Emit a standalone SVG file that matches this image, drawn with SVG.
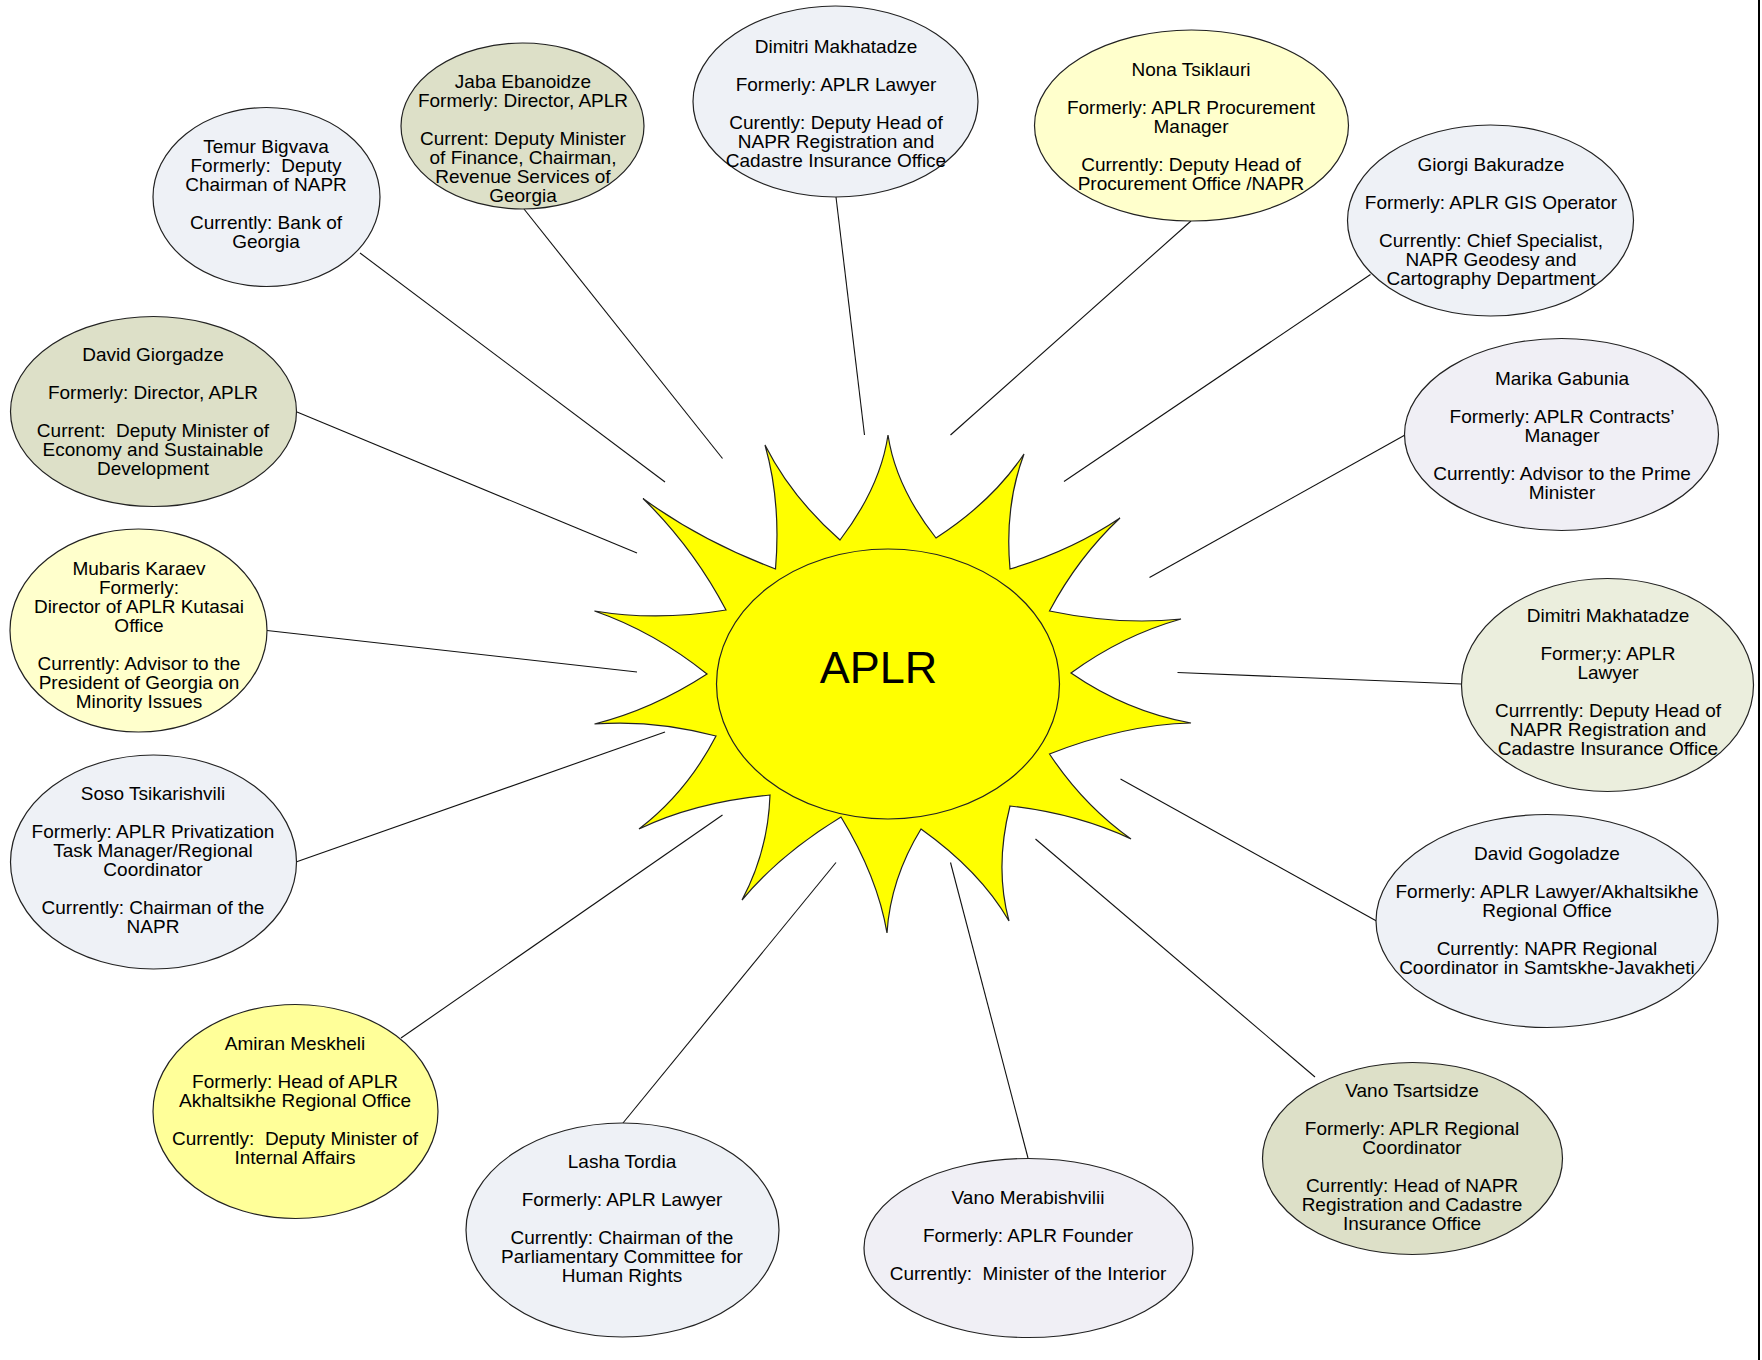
<svg xmlns="http://www.w3.org/2000/svg" width="1762" height="1360" viewBox="0 0 1762 1360">
<style>
.n{stroke:#222;stroke-width:1.2}
.t{font-family:"Liberation Sans",Arial,sans-serif;font-size:19px;fill:#000;text-anchor:middle;white-space:pre}
.c line{stroke:#111;stroke-width:1.1}
.blue{fill:#EEF1F6}.olive{fill:#DDE0C8}.lgreen{fill:#EBEEDD}.lav{fill:#F0EFF5}.ly{fill:#FFFFCC}.yel{fill:#FFFF99}
</style>
<rect width="1762" height="1360" fill="#fff"/>
<line x1="1759" y1="0" x2="1759" y2="1360" stroke="#000" stroke-width="2"/>
<g id="connectors" class="c">
<line x1="360" y1="253" x2="665" y2="482"/>
<line x1="524" y1="209" x2="722.5" y2="458.5"/>
<line x1="297" y1="412" x2="637" y2="553"/>
<line x1="267" y1="630.5" x2="637" y2="672"/>
<line x1="296" y1="862" x2="665" y2="732"/>
<line x1="401" y1="1038" x2="722.5" y2="815"/>
<line x1="623" y1="1123" x2="836" y2="862.5"/>
<line x1="1028" y1="1158" x2="950.5" y2="862.5"/>
<line x1="1315" y1="1077" x2="1035.5" y2="839"/>
<line x1="1376.5" y1="921" x2="1120.5" y2="779"/>
<line x1="1461.5" y1="684" x2="1177.5" y2="672.5"/>
<line x1="1405" y1="435" x2="1149.5" y2="577.5"/>
<line x1="1370.5" y1="274.5" x2="1064" y2="481.5"/>
<line x1="1191" y1="221" x2="950.5" y2="435"/>
<line x1="836" y1="197" x2="864.5" y2="435"/>
</g>
<g id="sun">
<path fill="#FFFF00" stroke="#222" stroke-width="1.2" d="M 840 540 Q 880.3 487.2 888 435 Q 895.7 486.8 936 538 Q 992.6 501.3 1024 454 Q 1004.4 506.2 1010 569 Q 1071.7 550.6 1120 518 Q 1078 557.4 1049.5 611 Q 1119 625.5 1181 619 Q 1122.3 635.5 1071 673 Q 1127.3 711.8 1191 723 Q 1124 724.7 1049.5 754 Q 1083.5 805.3 1131 839 Q 1077.2 813.7 1010 806 Q 994.4 867.4 1009 921 Q 980.1 871.1 921 829 Q 890.4 879 887 933 Q 877.6 877 841 817 Q 779.4 854.8 742 900 Q 768.1 851.2 770 795 Q 695.3 802 639 829 Q 686.7 792.5 716 736 Q 653.7 719.5 594.5 724 Q 652.3 709.5 707 674 Q 654 631.6 594.5 611 Q 657 621.4 726 610 Q 692.9 547.3 643 498.5 Q 700.8 540.7 775.5 569 Q 781.2 502.1 765 445 Q 791.5 497.4 840 540 Z"/>
<ellipse cx="888" cy="684" rx="171.5" ry="135" fill="#FFFF00" stroke="#222" stroke-width="1.2"/>
<text x="878.5" y="683" font-family="Liberation Sans, Arial, sans-serif" font-size="45" text-anchor="middle" fill="#000">APLR</text>
</g>
<g id="temur">
<ellipse class="n blue" cx="266.5" cy="197" rx="113.5" ry="89.5"/>
<text class="t" y="153"><tspan x="266">Temur Bigvava</tspan><tspan x="266" dy="19">Formerly:  Deputy</tspan><tspan x="266" dy="19">Chairman of NAPR</tspan><tspan x="266" dy="38">Currently: Bank of</tspan><tspan x="266" dy="19">Georgia</tspan></text>
</g>
<g id="jaba">
<ellipse class="n olive" cx="522.5" cy="126" rx="121.5" ry="83"/>
<text class="t" y="87.5"><tspan x="523">Jaba Ebanoidze</tspan><tspan x="523" dy="19">Formerly: Director, APLR</tspan><tspan x="523" dy="38">Current: Deputy Minister</tspan><tspan x="523" dy="19">of Finance, Chairman,</tspan><tspan x="523" dy="19">Revenue Services of</tspan><tspan x="523" dy="19">Georgia</tspan></text>
</g>
<g id="giorgadze">
<ellipse class="n olive" cx="153.5" cy="411.5" rx="143" ry="95"/>
<text class="t" y="360.5"><tspan x="153">David Giorgadze</tspan><tspan x="153" dy="38">Formerly: Director, APLR</tspan><tspan x="153" dy="38">Current:  Deputy Minister of</tspan><tspan x="153" dy="19">Economy and Sustainable</tspan><tspan x="153" dy="19">Development</tspan></text>
</g>
<g id="makhatadze-top">
<ellipse class="n blue" cx="835.5" cy="101.5" rx="142.5" ry="95.5"/>
<text class="t" y="52.5"><tspan x="836">Dimitri Makhatadze</tspan><tspan x="836" dy="38">Formerly: APLR Lawyer</tspan><tspan x="836" dy="38">Curently: Deputy Head of</tspan><tspan x="836" dy="19">NAPR Registration and</tspan><tspan x="836" dy="19">Cadastre Insurance Office</tspan></text>
</g>
<g id="tsiklauri">
<ellipse class="n ly" cx="1191.5" cy="125.5" rx="157" ry="95.5"/>
<text class="t" y="75.5"><tspan x="1191">Nona Tsiklauri</tspan><tspan x="1191" dy="38">Formerly: APLR Procurement</tspan><tspan x="1191" dy="19">Manager</tspan><tspan x="1191" dy="38">Currently: Deputy Head of</tspan><tspan x="1191" dy="19">Procurement Office /NAPR</tspan></text>
</g>
<g id="bakuradze">
<ellipse class="n blue" cx="1490.5" cy="220.5" rx="143" ry="95.5"/>
<text class="t" y="171"><tspan x="1491">Giorgi Bakuradze</tspan><tspan x="1491" dy="38">Formerly: APLR GIS Operator</tspan><tspan x="1491" dy="38">Currently: Chief Specialist,</tspan><tspan x="1491" dy="19">NAPR Geodesy and</tspan><tspan x="1491" dy="19">Cartography Department</tspan></text>
</g>
<g id="gabunia">
<ellipse class="n lav" cx="1561.5" cy="434.5" rx="157" ry="96"/>
<text class="t" y="384.5"><tspan x="1562">Marika Gabunia</tspan><tspan x="1562" dy="38">Formerly: APLR Contracts’</tspan><tspan x="1562" dy="19">Manager</tspan><tspan x="1562" dy="38">Currently: Advisor to the Prime</tspan><tspan x="1562" dy="19">Minister</tspan></text>
</g>
<g id="makhatadze-right">
<ellipse class="n lgreen" cx="1607.5" cy="685" rx="146" ry="106.5"/>
<text class="t" y="621.5"><tspan x="1608">Dimitri Makhatadze</tspan><tspan x="1608" dy="38">Former;y: APLR</tspan><tspan x="1608" dy="19">Lawyer</tspan><tspan x="1608" dy="38">Currrently: Deputy Head of</tspan><tspan x="1608" dy="19">NAPR Registration and</tspan><tspan x="1608" dy="19">Cadastre Insurance Office</tspan></text>
</g>
<g id="gogoladze">
<ellipse class="n blue" cx="1547" cy="921" rx="171" ry="106.5"/>
<text class="t" y="859.5"><tspan x="1547">David Gogoladze</tspan><tspan x="1547" dy="38">Formerly: APLR Lawyer/Akhaltsikhe</tspan><tspan x="1547" dy="19">Regional Office</tspan><tspan x="1547" dy="38">Currently: NAPR Regional</tspan><tspan x="1547" dy="19">Coordinator in Samtskhe-Javakheti</tspan></text>
</g>
<g id="tsartsidze">
<ellipse class="n olive" cx="1412.5" cy="1158.5" rx="150" ry="96"/>
<text class="t" y="1097"><tspan x="1412">Vano Tsartsidze</tspan><tspan x="1412" dy="38">Formerly: APLR Regional</tspan><tspan x="1412" dy="19">Coordinator</tspan><tspan x="1412" dy="38">Currently: Head of NAPR</tspan><tspan x="1412" dy="19">Registration and Cadastre</tspan><tspan x="1412" dy="19">Insurance Office</tspan></text>
</g>
<g id="merabishvili">
<ellipse class="n lav" cx="1028.5" cy="1248" rx="164.5" ry="89.5"/>
<text class="t" y="1204"><tspan x="1028">Vano Merabishvilii</tspan><tspan x="1028" dy="38">Formerly: APLR Founder</tspan><tspan x="1028" dy="38">Currently:  Minister of the Interior</tspan></text>
</g>
<g id="tordia">
<ellipse class="n blue" cx="622.5" cy="1230" rx="156.5" ry="107"/>
<text class="t" y="1168"><tspan x="622">Lasha Tordia</tspan><tspan x="622" dy="38">Formerly: APLR Lawyer</tspan><tspan x="622" dy="38">Currently: Chairman of the</tspan><tspan x="622" dy="19">Parliamentary Committee for</tspan><tspan x="622" dy="19">Human Rights</tspan></text>
</g>
<g id="meskheli">
<ellipse class="n yel" cx="295.5" cy="1111.5" rx="142.5" ry="107"/>
<text class="t" y="1049.5"><tspan x="295">Amiran Meskheli</tspan><tspan x="295" dy="38">Formerly: Head of APLR</tspan><tspan x="295" dy="19">Akhaltsikhe Regional Office</tspan><tspan x="295" dy="38">Currently:  Deputy Minister of</tspan><tspan x="295" dy="19">Internal Affairs</tspan></text>
</g>
<g id="tsikarishvili">
<ellipse class="n blue" cx="153.5" cy="862" rx="143" ry="107"/>
<text class="t" y="799.5"><tspan x="153">Soso Tsikarishvili</tspan><tspan x="153" dy="38">Formerly: APLR Privatization</tspan><tspan x="153" dy="19">Task Manager/Regional</tspan><tspan x="153" dy="19">Coordinator</tspan><tspan x="153" dy="38">Currently: Chairman of the</tspan><tspan x="153" dy="19">NAPR</tspan></text>
</g>
<g id="karaev">
<ellipse class="n ly" cx="138.5" cy="630.5" rx="128.5" ry="101.5"/>
<text class="t" y="574.5"><tspan x="139">Mubaris Karaev</tspan><tspan x="139" dy="19">Formerly:</tspan><tspan x="139" dy="19">Director of APLR Kutasai</tspan><tspan x="139" dy="19">Office</tspan><tspan x="139" dy="38">Currently: Advisor to the</tspan><tspan x="139" dy="19">President of Georgia on</tspan><tspan x="139" dy="19">Minority Issues</tspan></text>
</g>
</svg>
